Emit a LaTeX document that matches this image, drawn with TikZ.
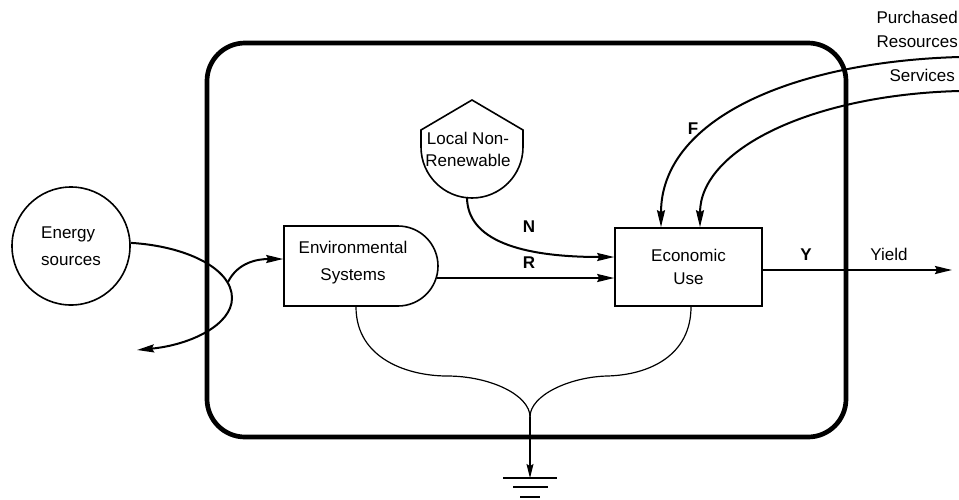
\documentclass[tikz,border=0pt]{standalone}
\usepackage{fontspec}
\setmainfont{Liberation Sans}
\usetikzlibrary{arrows.meta,shapes.misc}
\begin{document}
\begin{tikzpicture}[x=1pt,y=-1pt,
  txt/.style={font=\fontsize{17}{22}\selectfont, inner sep=0pt},
  lbl/.style={font=\fontsize{17}{20}\selectfont\bfseries, inner sep=0pt},
  flow/.style={line width=2pt, -{Stealth[length=17pt,width=8pt,inset=2pt]}},
  drain/.style={line width=1.2pt},
  boxline/.style={line width=1.6pt},
]
\useasboundingbox (0,0) rectangle (959,499);
% system boundary
\node[draw, line width=4.7pt, rounded corners=38pt, minimum width=639pt, minimum height=394pt, inner sep=0pt] (sys) at (526.5,240) {};
% energy sources
\node[circle, draw, boxline, minimum size=118pt, align=left, txt, font=\fontsize{17}{27}\selectfont] (energy) at (71,246) {Energy\\sources};
% environmental systems
\node[rounded rectangle, rounded rectangle west arc=none, draw, boxline, minimum width=154pt, minimum height=80pt, inner sep=0pt] (env) at (361,266) {};
\node[txt, align=center, font=\fontsize{17}{27}\selectfont] (envtext) at (353,263) {Environmental\\Systems};
% local non-renewable
\draw[boxline] (472,100) -- (421,130) -- (421,147) arc[start angle=180, end angle=0, radius=51] -- (523,130) -- cycle;
\node[txt, align=center] (local) at (468,149) {Local Non-\\Renewable};
\coordinate (localbot) at (467,197);
% economic use
\node[draw, boxline, minimum width=147pt, minimum height=78pt, align=center, txt, font=\fontsize{17}{23}\selectfont] (eco) at (688.5,267) {Economic\\Use};
% energy inflow
\coordinate (split) at (228,282);
\draw[flow] (energy.3) .. controls (185,246) and (232,268) .. (232,298) .. controls (232,325) and (190,345) .. (137,350);
\draw[flow] (split) .. controls (238,262) and (258,259) .. ([yshift=7pt]env.west);
% R
\draw[flow] ([xshift=-2pt,yshift=-12pt]env.east) -- ([yshift=-12pt]env.east -| eco.west);
% N
\draw[flow] (localbot) .. controls (467,240) and (520,257) .. ([yshift=10pt]eco.west);
% F
\coordinate (purch) at (959,57);
\coordinate (serv) at (959,91);
\draw[flow] (purch) .. controls (790,62) and (661,120) .. ([xshift=-27.5pt]eco.north);
\draw[flow] (serv) .. controls (810,95) and (700,150) .. ([xshift=11.5pt]eco.north);
% Y
\coordinate (yieldend) at (952,270);
\draw[flow] ([yshift=-3pt]eco.east) -- (yieldend);
% drains
\coordinate (merge) at (530,417);
\draw[drain] ([xshift=-5pt]env.south) .. controls (356,360) and (410,376) .. (447,376) .. controls (490,376) and (530,395) .. (merge);
\draw[drain] ([xshift=2.5pt]eco.south) .. controls (691,355) and (650,375) .. (607,376) .. controls (570,377) and (530,395) .. (merge);
\coordinate (ground) at (530,478);
\draw[drain, -{Stealth[length=14pt,width=7pt,inset=2pt]}] (merge) -- (ground);
\draw[drain] (503,478) -- (557,478) (513,487) -- (548,487) (520,497) -- (540,497);
% labels
\node[lbl] (nlab) at (529,227) {N};
\node[lbl] (rlab) at (529,263) {R};
\node[lbl] (flab) at (693,129) {F};
\node[lbl] (ylab) at (806,255) {Y};
\node[txt] (yield) at (889,254) {Yield};
\node[txt, anchor=east] (purchtxt) at (958,17) {Purchased};
\node[txt, anchor=east] (restxt) at (958,42) {Resources};
\node[txt, anchor=east] (servtxt) at (955,75) {Services};
\end{tikzpicture}
\end{document}
